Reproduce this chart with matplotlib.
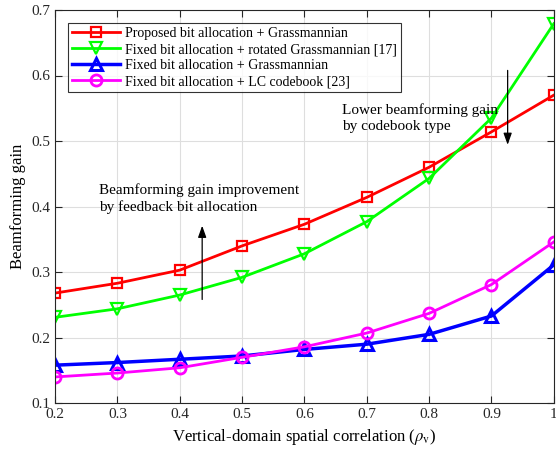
import matplotlib
matplotlib.use("Agg")
import matplotlib.pyplot as plt

plt.rcParams['font.family'] = ['Liberation Serif', 'DejaVu Serif']
plt.rcParams['mathtext.fontset'] = 'stix'

x = [0.2, 0.3, 0.4, 0.5, 0.6, 0.7, 0.8, 0.9, 1.0]
proposed = [0.268, 0.283, 0.303, 0.340, 0.373, 0.414, 0.460, 0.514, 0.570]
rotated = [0.231, 0.244, 0.265, 0.292, 0.328, 0.377, 0.443, 0.535, 0.679]
grass = [0.158, 0.162, 0.167, 0.172, 0.182, 0.190, 0.205, 0.233, 0.311]
lc = [0.140, 0.146, 0.154, 0.170, 0.186, 0.207, 0.237, 0.281, 0.346]
labels = ['Proposed bit allocation + Grassmannian',
          'Fixed bit allocation + rotated Grassmannian [17]',
          'Fixed bit allocation + Grassmannian',
          'Fixed bit allocation + LC codebook [23]']
xticks = [0.2, 0.3, 0.4, 0.5, 0.6, 0.7, 0.8, 0.9, 1.0]
xticklabels = ['0.2', '0.3', '0.4', '0.5', '0.6', '0.7', '0.8', '0.9', '1']
yticks = [0.1, 0.2, 0.3, 0.4, 0.5, 0.6, 0.7]

fig = plt.figure(figsize=(5.56, 4.53), dpi=100)
ax = fig.add_axes([0.099, 0.110, 0.897, 0.868])

ax.plot(x, proposed, color='#ff0000', lw=2, marker='s', ms=7, mfc='none', mew=1.6, label=labels[0])
ax.plot(x, rotated, color='#00ff00', lw=2, marker='v', ms=9, mfc='none', mew=1.6, label=labels[1])
ax.plot(x, grass, color='#0000ff', lw=2.5, marker='^', ms=9, mfc='none', mew=2.2, label=labels[2])
ax.plot(x, lc, color='#ff00ff', lw=2, marker='o', ms=8, mfc='none', mew=2, label=labels[3])

ax.set_xlim(0.2, 1.0)
ax.set_ylim(0.1, 0.7)
ax.set_xticks(xticks)
ax.set_xticklabels(xticklabels)
ax.set_yticks(yticks)
ax.tick_params(direction='in', top=True, right=True, labelsize=11, length=5, colors='#262626')
ax.grid(True, color='#dedede', lw=0.8)
ax.set_axisbelow(True)
for s in ax.spines.values():
    s.set_color('#262626')
    s.set_linewidth(0.8)

ax.set_xlabel(r'Vertical-domain spatial correlation ($\rho_{\mathrm{v}}$)', fontsize=12)
ax.set_ylabel('Beamforming gain', fontsize=12)

leg = ax.legend(loc='upper left', bbox_to_anchor=(0.018, 0.978), fontsize=10, frameon=True,
                fancybox=False, edgecolor='black', handlelength=3.4, borderpad=0.3,
                labelspacing=0.22, handletextpad=0.4, borderaxespad=0.3)
leg.get_frame().set_linewidth(0.8)

ax.annotate('', xy=(0.436, 0.375), xytext=(0.436, 0.254),
            arrowprops=dict(arrowstyle='-|>,head_width=0.25,head_length=0.7', color='black', lw=0.9))
ax.text(0.27, 0.436, 'Beamforming gain improvement\nby feedback bit allocation', fontsize=11,
        va='top', ha='left', linespacing=1.3)

ax.annotate('', xy=(0.926, 0.49), xytext=(0.926, 0.612),
            arrowprops=dict(arrowstyle='-|>,head_width=0.25,head_length=0.7', color='black', lw=0.9))
ax.text(0.66, 0.558, 'Lower beamforming gain\nby codebook type', fontsize=11,
        va='top', ha='left', linespacing=1.3)

fig.savefig('out.png', dpi=100)
